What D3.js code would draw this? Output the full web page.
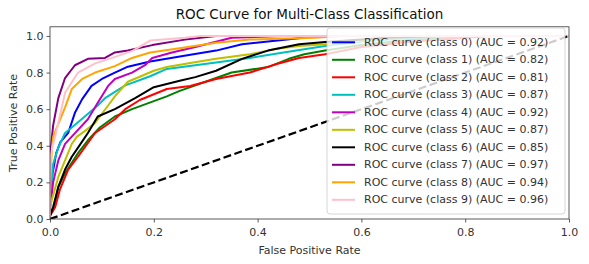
<!DOCTYPE html>
<html>
<head>
<meta charset="utf-8">
<script src="https://cdn.jsdelivr.net/npm/d3@7"></script>
<style>
  body { margin: 0; background: #fff; }
  svg { font-family: "DejaVu Sans", sans-serif; }
</style>
</head>
<body>
<div class="viz"></div>
<script>
var W = 589, H = 264;
var margin = { left: 50, right: 20, top: 26.8, bottom: 45 };

// data
var classNames = ["class 0", "class 1", "class 2", "class 3", "class 4",
                  "class 5", "class 6", "class 7", "class 8", "class 9"];
var aucValues = [0.92, 0.82, 0.81, 0.87, 0.92, 0.87, 0.85, 0.97, 0.94, 0.96];
var lineColors = ["#0000ff", "#008000", "#ff0000", "#00bfbf", "#bf00bf",
                  "#bfbf00", "#000000", "#800080", "#ffa500", "#ffc0cb"];

var fpr0 = [0, 0, 0.005, 0.012, 0.02, 0.035, 0.048, 0.062, 0.08, 0.10, 0.125, 0.148, 0.193, 0.256, 0.32, 0.37, 0.42, 0.47, 0.52, 1];
var tpr0 = [0, 0.12, 0.25, 0.36, 0.42, 0.47, 0.58, 0.655, 0.727, 0.765, 0.80, 0.83, 0.86, 0.89, 0.92, 0.955, 0.97, 0.985, 1.0, 1];

var fpr1 = [0, 0, 0.004, 0.008, 0.016, 0.029, 0.054, 0.073, 0.096, 0.125, 0.158, 0.225, 0.25, 0.29, 0.35, 0.42, 0.46, 0.49, 0.53, 0.6, 0.7, 0.8, 1];
var tpr1 = [0, 0.03, 0.05, 0.07, 0.175, 0.25, 0.36, 0.43, 0.50, 0.56, 0.60, 0.67, 0.70, 0.74, 0.80, 0.83, 0.875, 0.90, 0.92, 0.95, 0.98, 1.0, 1];

var fpr2 = [0, 0, 0.005, 0.01, 0.019, 0.035, 0.054, 0.073, 0.087, 0.125, 0.145, 0.173, 0.225, 0.27, 0.32, 0.385, 0.437, 0.48, 0.53, 0.6, 0.7, 0.85, 1];
var tpr2 = [0, 0.02, 0.04, 0.065, 0.16, 0.27, 0.34, 0.415, 0.47, 0.545, 0.60, 0.65, 0.71, 0.727, 0.765, 0.80, 0.847, 0.88, 0.90, 0.94, 0.97, 1.0, 1];

var fpr3 = [0, 0, 0.003, 0.006, 0.016, 0.029, 0.042, 0.067, 0.092, 0.106, 0.145, 0.193, 0.225, 0.32, 0.385, 0.45, 0.53, 0.6, 0.7, 0.8, 1];
var tpr3 = [0, 0.08, 0.18, 0.30, 0.39, 0.47, 0.50, 0.56, 0.62, 0.66, 0.73, 0.78, 0.82, 0.855, 0.88, 0.91, 0.945, 0.97, 0.99, 1.0, 1];

var fpr4 = [0, 0, 0.003, 0.006, 0.016, 0.029, 0.045, 0.073, 0.092, 0.112, 0.125, 0.158, 0.183, 0.197, 0.235, 0.28, 0.35, 0.45, 1];
var tpr4 = [0, 0.06, 0.12, 0.20, 0.32, 0.41, 0.46, 0.545, 0.635, 0.727, 0.765, 0.80, 0.84, 0.88, 0.91, 0.94, 0.99, 1.0, 1];

var fpr5 = [0, 0, 0.003, 0.016, 0.029, 0.042, 0.052, 0.067, 0.087, 0.112, 0.125, 0.15, 0.2, 0.225, 0.276, 0.32, 0.385, 0.437, 0.48, 0.53, 0.65, 0.75, 1];
var tpr5 = [0, 0.05, 0.10, 0.23, 0.32, 0.41, 0.45, 0.48, 0.525, 0.62, 0.67, 0.75, 0.81, 0.83, 0.855, 0.875, 0.90, 0.93, 0.945, 0.955, 0.99, 1.0, 1];

var fpr6 = [0, 0, 0.003, 0.006, 0.016, 0.029, 0.042, 0.054, 0.073, 0.092, 0.125, 0.164, 0.2, 0.25, 0.28, 0.32, 0.37, 0.42, 0.48, 0.53, 0.65, 0.75, 1];
var tpr6 = [0, 0.013, 0.04, 0.065, 0.175, 0.27, 0.34, 0.39, 0.47, 0.56, 0.60, 0.66, 0.72, 0.755, 0.775, 0.81, 0.875, 0.92, 0.955, 0.967, 0.99, 1.0, 1];

var fpr7 = [0, 0, 0.002, 0.006, 0.016, 0.029, 0.048, 0.073, 0.106, 0.125, 0.15, 0.197, 0.26, 0.32, 1];
var tpr7 = [0, 0.2, 0.4, 0.51, 0.66, 0.77, 0.84, 0.875, 0.88, 0.91, 0.92, 0.95, 0.98, 1.0, 1];

var fpr8 = [0, 0, 0.002, 0.004, 0.006, 0.016, 0.029, 0.042, 0.062, 0.087, 0.125, 0.158, 0.193, 0.256, 0.32, 0.385, 0.51, 0.56, 1];
var tpr8 = [0, 0.15, 0.3, 0.39, 0.45, 0.52, 0.61, 0.71, 0.765, 0.80, 0.835, 0.88, 0.91, 0.936, 0.963, 0.98, 0.99, 1.0, 1];

var fpr9 = [0, 0, 0.002, 0.005, 0.01, 0.029, 0.054, 0.087, 0.12, 0.16, 0.193, 0.26, 0.29, 1];
var tpr9 = [0, 0.2, 0.35, 0.4, 0.45, 0.69, 0.80, 0.85, 0.88, 0.92, 0.975, 0.99, 1.0, 1];

var fprs = [fpr0, fpr1, fpr2, fpr3, fpr4, fpr5, fpr6, fpr7, fpr8, fpr9];
var tprs = [tpr0, tpr1, tpr2, tpr3, tpr4, tpr5, tpr6, tpr7, tpr8, tpr9];

var tickValues = [0, 0.2, 0.4, 0.6, 0.8, 1.0];

var svg = d3.select(".viz")
    .append("svg")
    .attr("width", W)
    .attr("height", H);

var x = d3.scaleLinear().domain([0, 1]).range([margin.left, W - margin.right]);
var y = d3.scaleLinear().domain([0, 1.05]).range([H - margin.bottom, margin.top]);

svg.append("defs").append("clipPath")
    .attr("id", "plotArea")
    .append("rect")
    .attr("x", x(0)).attr("y", y(1.05))
    .attr("width", x(1) - x(0)).attr("height", y(0) - y(1.05));

var plot = svg.append("g").attr("clip-path", "url(#plotArea)");

var line = d3.line()
    .x(function (d) { return x(d[0]); })
    .y(function (d) { return y(d[1]); });

classNames.forEach(function (name, i) {
    var pts = fprs[i].map(function (f, j) { return [f, tprs[i][j]]; });
    plot.append("path")
        .datum(pts)
        .attr("fill", "none")
        .attr("stroke", lineColors[i])
        .attr("stroke-width", 2)
        .attr("stroke-linejoin", "round")
        .attr("d", line);
});

// chance diagonal
plot.append("path")
    .datum([[0, 0], [1, 1]])
    .attr("fill", "none")
    .attr("stroke", "#000")
    .attr("stroke-width", 2.2)
    .attr("stroke-dasharray", "8,3.5")
    .attr("d", line);

// axes
var xAxis = svg.append("g")
    .attr("transform", "translate(0," + y(0) + ")")
    .call(d3.axisBottom(x).tickValues(tickValues).tickFormat(d3.format(".1f"))
        .tickSizeOuter(0).tickSize(3.5).tickPadding(5.5));
var yAxis = svg.append("g")
    .attr("transform", "translate(" + x(0) + ",0)")
    .call(d3.axisLeft(y).tickValues(tickValues).tickFormat(d3.format(".1f"))
        .tickSizeOuter(0).tickSize(3.5).tickPadding(3));

[xAxis, yAxis].forEach(function (a) {
    a.select(".domain").remove();
    a.selectAll("line").attr("stroke", "#333").attr("stroke-width", 0.8);
    a.selectAll("text").attr("fill", "#333").style("font-size", "11px")
        .style("font-family", "DejaVu Sans, sans-serif");
});

svg.append("rect")
    .attr("x", x(0)).attr("y", y(1.05))
    .attr("width", x(1) - x(0)).attr("height", y(0) - y(1.05))
    .attr("fill", "none")
    .attr("stroke", "#333")
    .attr("stroke-width", 0.8);

// titles
svg.append("text")
    .attr("x", (x(0) + x(1)) / 2)
    .attr("y", 19)
    .attr("text-anchor", "middle")
    .style("font-size", "13.5px")
    .attr("fill", "#111")
    .text("ROC Curve for Multi-Class Classification");

svg.append("text")
    .attr("x", (x(0) + x(1)) / 2)
    .attr("y", 254)
    .attr("text-anchor", "middle")
    .style("font-size", "11px")
    .attr("fill", "#333")
    .text("False Positive Rate");

svg.append("text")
    .attr("transform", "translate(17," + ((y(0) + y(1.05)) / 2) + ") rotate(-90)")
    .attr("text-anchor", "middle")
    .style("font-size", "11px")
    .attr("fill", "#333")
    .text("True Positive Rate");

// legend
var legend = svg.append("g");
legend.append("rect")
    .attr("x", 327).attr("y", 28)
    .attr("width", 238).attr("height", 186)
    .attr("rx", 3)
    .attr("fill", "#fff")
    .attr("fill-opacity", 0.8)
    .attr("stroke", "#ccc")
    .attr("stroke-width", 0.8);

classNames.forEach(function (name, i) {
    var ly = 42.3 + i * 17.5;
    legend.append("line")
        .attr("x1", 332).attr("x2", 355)
        .attr("y1", ly).attr("y2", ly)
        .attr("stroke", lineColors[i])
        .attr("stroke-width", 2);
    legend.append("text")
        .attr("x", 364)
        .attr("y", ly)
        .attr("dominant-baseline", "central")
        .style("font-size", "11px")
        .attr("fill", "#333")
        .text("ROC curve (" + name + ") (AUC = " + aucValues[i].toFixed(2) + ")");
});
</script>
</body>
</html>
